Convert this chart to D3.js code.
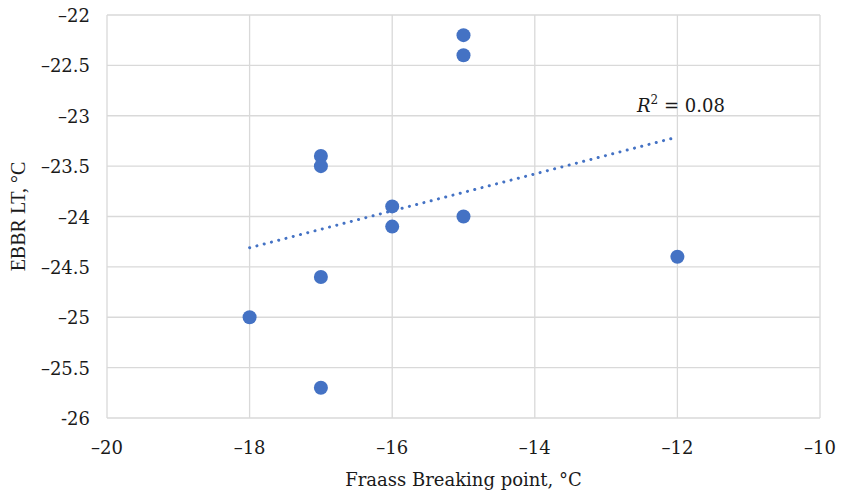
<!DOCTYPE html>
<html>
<head>
<meta charset="utf-8">
<script src="https://cdn.jsdelivr.net/npm/d3@7"></script>
<style>
    body { margin: 0; background: #fff; }
    svg { display: block; }
    .tick-label { font-family: "DejaVu Serif", serif; font-size: 18px; fill: #1a1a1a; }
    .x-title { font-family: "DejaVu Serif", serif; font-size: 18px; fill: #1a1a1a; }
    .y-title { font-family: "Liberation Serif", serif; font-size: 20px; fill: #1a1a1a; }
</style>
</head>
<body>
<svg id="chart" width="841" height="495"></svg>
<script>
"use strict"

// Fraass breaking point (x) and EBBR LT (y), both in °C
var fraass = [-15, -15, -17, -17, -16, -16, -15, -12, -17, -18, -17];
var ebbr   = [-22.2, -22.4, -23.4, -23.5, -23.9, -24.1, -24.0, -24.4, -24.6, -25.0, -25.7];

var xTicks = [-20, -18, -16, -14, -12, -10];
var xTickLabels = ["\u201320", "\u201318", "\u201316", "\u201314", "\u201312", "\u201310"];
var yTicks = [-22, -22.5, -23, -23.5, -24, -24.5, -25, -25.5, -26];
var yTickLabels = ["\u201322", "\u201322.5", "\u201323", "\u201323.5", "\u201324", "\u201324.5", "\u201325", "\u201325.5", "-26"];

var blue = "#4472c4";
var grid = "#d9d9d9";

var svg = d3.select("#chart");
var margin = {left: 107, right: 21, top: 15, bottom: 77};
var width = 841 - margin.left - margin.right;
var height = 495 - margin.top - margin.bottom;

var x = d3.scaleLinear().domain([-20, -10]).range([margin.left, margin.left + width]);
var y = d3.scaleLinear().domain([-26, -22]).range([margin.top + height, margin.top]);

// Grid
svg.append("g").selectAll("line.v")
    .data(xTicks).enter()
    .append("line")
    .attr("x1", function(d){ return x(d); })
    .attr("x2", function(d){ return x(d); })
    .attr("y1", y(-22))
    .attr("y2", y(-26))
    .attr("stroke", grid)
    .attr("stroke-width", 1.3);

svg.append("g").selectAll("line.h")
    .data(yTicks).enter()
    .append("line")
    .attr("x1", x(-20))
    .attr("x2", x(-10))
    .attr("y1", function(d){ return y(d); })
    .attr("y2", function(d){ return y(d); })
    .attr("stroke", grid)
    .attr("stroke-width", 1.3);

// Tick labels
svg.append("g").selectAll("text")
    .data(xTicks).enter()
    .append("text")
    .attr("class", "tick-label")
    .attr("x", function(d){ return x(d); })
    .attr("y", y(-26) + 36)
    .attr("text-anchor", "middle")
    .text(function(d, i){ return xTickLabels[i]; });

svg.append("g").selectAll("text")
    .data(yTicks).enter()
    .append("text")
    .attr("class", "tick-label")
    .attr("x", x(-20) - 17)
    .attr("y", function(d){ return y(d) + 7; })
    .attr("text-anchor", "end")
    .text(function(d, i){ return yTickLabels[i]; });

// Axis titles
svg.append("text")
    .attr("class", "x-title")
    .attr("x", (x(-20) + x(-10)) / 2)
    .attr("y", 486)
    .attr("text-anchor", "middle")
    .text("Fraass Breaking point, \u00b0C");

svg.append("text")
    .attr("class", "y-title")
    .attr("transform", "translate(25," + ((y(-22) + y(-26)) / 2) + ") rotate(-90)")
    .attr("text-anchor", "middle")
    .text("EBBR LT, \u00b0C");

// Linear trendline (least squares)
var n = fraass.length;
var mx = d3.mean(fraass), my = d3.mean(ebbr);
var sxy = 0, sxx = 0, syy = 0;
for (var i = 0; i < n; i++) {
    sxy += (fraass[i] - mx) * (ebbr[i] - my);
    sxx += (fraass[i] - mx) * (fraass[i] - mx);
    syy += (ebbr[i] - my) * (ebbr[i] - my);
}
var slope = sxy / sxx;
var icpt = my - slope * mx;
var r2 = sxy * sxy / (sxx * syy);
var xr = d3.extent(fraass);

svg.append("line")
    .attr("x1", x(xr[0]))
    .attr("y1", y(icpt + slope * xr[0]))
    .attr("x2", x(xr[1]))
    .attr("y2", y(icpt + slope * xr[1]))
    .attr("stroke", blue)
    .attr("stroke-width", 3)
    .attr("stroke-linecap", "round")
    .attr("stroke-dasharray", "0.1 7.4");

// Points
svg.append("g").selectAll("circle")
    .data(fraass).enter()
    .append("circle")
    .attr("cx", function(d){ return x(d); })
    .attr("cy", function(d, i){ return y(ebbr[i]); })
    .attr("r", 7)
    .attr("fill", blue);

// R² label
var lbl = svg.append("text")
    .attr("class", "x-title")
    .attr("x", x(-11.95))
    .attr("y", y(-22.96))
    .attr("text-anchor", "middle");
lbl.append("tspan").style("font-style", "italic").text("R");
lbl.append("tspan").attr("dy", -8).style("font-size", "12px").text("2");
lbl.append("tspan").attr("dy", 8).text(" = " + r2.toFixed(2));
</script>
</body>
</html>
